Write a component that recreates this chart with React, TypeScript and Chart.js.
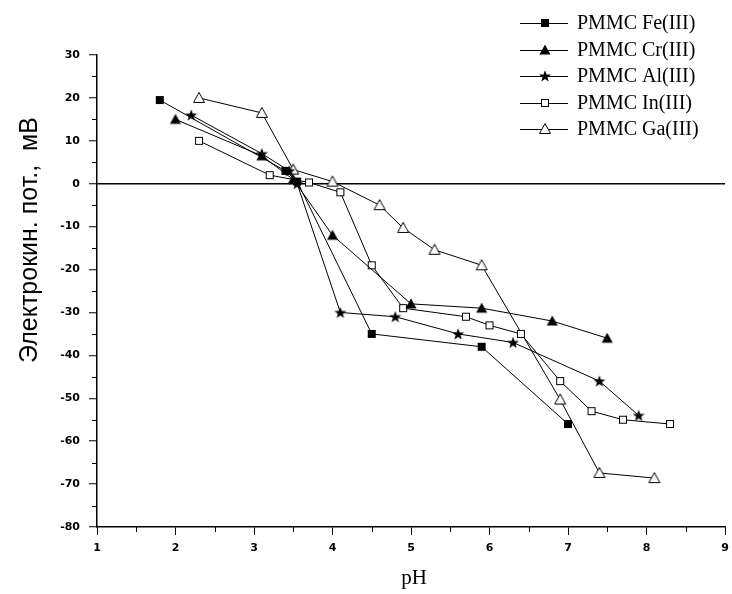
import React, { useEffect, useRef } from "react";
import { Chart, registerables } from "chart.js";

Chart.register(...registerables);

const xTickMin = 1;
const xTickMax = 9;
const yTickMin = -80;
const yTickMax = 30;

const yTitle = "Электрокин. пот.,  мВ";
const xTitle = "pH";

const seriesNames = ["PMMC Fe(III)", "PMMC Cr(III)", "PMMC Al(III)", "PMMC In(III)", "PMMC Ga(III)"];
const seriesMarkers = ["fsquare", "ftriangle", "fstar", "osquare", "otriangle"];

const feX = [1.8, 3.4, 3.55, 4.5, 5.9, 7.0];
const feY = [19.5, 3, 0.5, -35, -38, -56];

const crX = [2.0, 3.1, 3.5, 4.0, 5.0, 5.9, 6.8, 7.5];
const crY = [15, 6.5, 1, -12, -28, -29, -32, -36];

const alX = [2.2, 3.1, 3.45, 3.55, 4.1, 4.8, 5.6, 6.3, 7.4, 7.9];
const alY = [16, 7, 3, 0, -30, -31, -35, -37, -46, -54];

const inX = [2.3, 3.2, 3.7, 4.1, 4.5, 4.9, 5.7, 6.0, 6.4, 6.9, 7.3, 7.7, 8.3];
const inY = [10, 2, 0.3, -2, -19, -29, -31, -33, -35, -46, -53, -55, -56];

const gaX = [2.3, 3.1, 3.5, 4.0, 4.6, 4.9, 5.3, 5.9, 6.9, 7.4, 8.1];
const gaY = [20, 16.5, 3.3, 0.5, -5, -10.3, -15.4, -19, -50.3, -67.4, -68.6];

const seriesX = [feX, crX, alX, inX, gaX];
const seriesY = [feY, crY, alY, inY, gaY];

function makeMarker(kind: string): HTMLCanvasElement {
  const s = 14;
  const c = document.createElement("canvas");
  c.width = s;
  c.height = s;
  const g = c.getContext("2d")!;
  const m = s / 2;
  g.lineWidth = 1;
  g.strokeStyle = "#000";
  g.fillStyle = "#000";
  if (kind === "fsquare") {
    g.fillRect(m - 4, m - 4, 8, 8);
  } else if (kind === "osquare") {
    g.fillStyle = "#fff";
    g.fillRect(m - 3.5, m - 3.5, 7, 7);
    g.strokeRect(m - 3.5, m - 3.5, 7, 7);
  } else if (kind === "ftriangle" || kind === "otriangle") {
    g.beginPath();
    g.moveTo(m, m - 5.5);
    g.lineTo(m + 5.5, m + 4.5);
    g.lineTo(m - 5.5, m + 4.5);
    g.closePath();
    if (kind === "ftriangle") {
      g.fill();
    } else {
      g.fillStyle = "#fff";
      g.fill();
      g.stroke();
    }
  } else if (kind === "fstar") {
    g.beginPath();
    for (let i = 0; i < 10; i++) {
      const r = i % 2 === 0 ? 6.3 : 2.6;
      const a = -Math.PI / 2 + (i * Math.PI) / 5;
      const px = m + r * Math.cos(a);
      const py = m + 0.5 + r * Math.sin(a);
      if (i === 0) g.moveTo(px, py);
      else g.lineTo(px, py);
    }
    g.closePath();
    g.fill();
  }
  return c;
}

export default function App() {
  const canvasRef = useRef<HTMLCanvasElement | null>(null);

  useEffect(() => {
    const canvas = canvasRef.current;
    if (!canvas) return;
    const markers = seriesMarkers.map((k) => makeMarker(k));

    const datasets = seriesNames.map((name, si) => ({
      label: name,
      data: seriesX[si].map((x, i) => ({ x, y: seriesY[si][i] })),
      borderColor: "#000",
      backgroundColor: "#000",
      borderWidth: 1,
      pointStyle: markers[si] as any,
      pointRadius: 6,
      pointHoverRadius: 6,
      showLine: true,
      tension: 0,
    }));

    const extras = {
      id: "extras",
      afterDraw(chart: any) {
        const ctx = chart.ctx as CanvasRenderingContext2D;
        const xs = chart.scales.x;
        const ys = chart.scales.y;
        const area = chart.chartArea;
        ctx.save();
        ctx.strokeStyle = "#000";
        ctx.lineWidth = 1;
        // minor ticks
        for (let v = xTickMin + 0.5; v < xTickMax; v += 1) {
          const px = Math.round(xs.getPixelForValue(v)) + 0.5;
          ctx.beginPath();
          ctx.moveTo(px, area.bottom);
          ctx.lineTo(px, area.bottom + 5);
          ctx.stroke();
        }
        for (let v = yTickMin + 5; v < yTickMax; v += 10) {
          const py = Math.round(ys.getPixelForValue(v)) + 0.5;
          ctx.beginPath();
          ctx.moveTo(area.left - 5, py);
          ctx.lineTo(area.left, py);
          ctx.stroke();
        }
        // axis titles
        ctx.fillStyle = "#000";
        ctx.font = '25px "Liberation Sans", Arial, sans-serif';
        ctx.textAlign = "center";
        ctx.textBaseline = "alphabetic";
        ctx.save();
        ctx.translate(37, 240);
        ctx.rotate(-Math.PI / 2);
        ctx.fillText(yTitle, 0, 0);
        ctx.restore();
        ctx.textBaseline = "middle";
        ctx.font = '21px "Liberation Serif", "Times New Roman", serif';
        ctx.fillText(xTitle, (area.left + area.right) / 2 + 3, 578);
        // legend
        ctx.font = '20px "Liberation Serif", "Times New Roman", serif';
        ctx.textAlign = "left";
        seriesNames.forEach((name, i) => {
          const y = 23 + i * 26.5;
          const yy = Math.round(y) + 0.5;
          ctx.beginPath();
          ctx.moveTo(520, yy);
          ctx.lineTo(568, yy);
          ctx.stroke();
          const mk = markers[i];
          ctx.drawImage(mk, 545 - mk.width / 2, Math.round(y) - mk.height / 2);
          ctx.fillText(name, 577, y + 1);
        });
        ctx.restore();
      },
    };

    const chart = new Chart(canvas, {
      type: "scatter",
      data: { datasets: datasets as any },
      options: {
        animation: false,
        responsive: false,
        events: [],
        layout: { padding: { top: 55, right: 3, left: 0, bottom: 0 } },
        plugins: {
          legend: { display: false },
          tooltip: { enabled: false },
        },
        scales: {
          x: {
            type: "linear",
            min: xTickMin,
            max: xTickMax,
            afterFit: (scale: any) => {
              scale.height = 67;
              scale.paddingLeft = 0;
              scale.paddingRight = 0;
            },
            ticks: {
              stepSize: 1,
              color: "#000",
              padding: 7,
              font: { family: '"DejaVu Sans", sans-serif', size: 11, weight: "bold" },
            },
            grid: {
              drawOnChartArea: false,
              drawTicks: true,
              tickLength: 8,
              tickColor: "#000",
              tickWidth: 1,
            },
            border: { display: true, color: "#000", width: 1.5 },
          },
          y: {
            type: "linear",
            min: yTickMin,
            max: yTickMax,
            afterFit: (scale: any) => {
              scale.width = 97;
              scale.paddingTop = 0;
              scale.paddingBottom = 0;
            },
            ticks: {
              stepSize: 10,
              color: "#000",
              padding: 9,
              font: { family: '"DejaVu Sans", sans-serif', size: 11, weight: "bold" },
            },
            grid: {
              drawOnChartArea: true,
              color: (c: any) => (c.tick && c.tick.value === 0 ? "#000" : "rgba(0,0,0,0)"),
              lineWidth: 1.5,
              drawTicks: true,
              tickLength: 8,
              tickColor: "#000",
              tickWidth: 1,
            },
            border: { display: true, color: "#000", width: 1.5 },
          },
        },
      } as any,
      plugins: [extras],
    });

    return () => {
      chart.destroy();
    };
  }, []);

  return (
    <div style={{ position: "absolute", left: 0, top: 0, width: 732, height: 594, background: "#fff" }}>
      <canvas ref={canvasRef} width={732} height={594} style={{ display: "block" }} />
    </div>
  );
}
